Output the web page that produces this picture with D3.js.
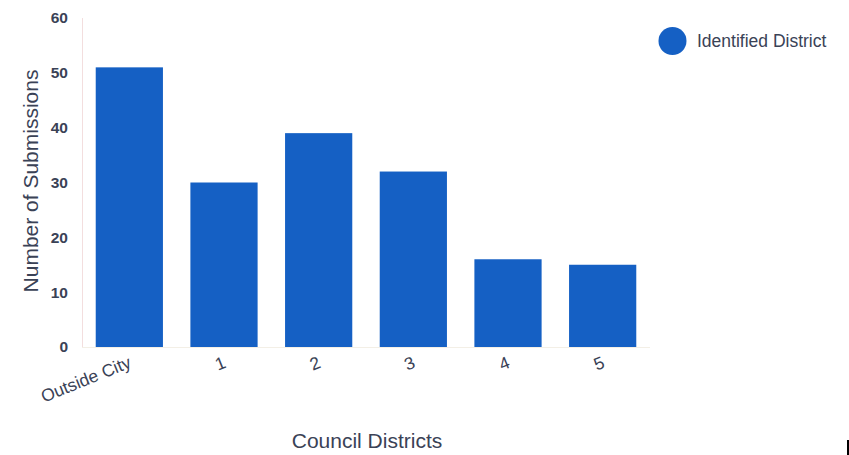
<!DOCTYPE html>
<html><head><meta charset="utf-8">
<script src="https://cdn.jsdelivr.net/npm/d3@7"></script>
<style>body{margin:0;background:#fff;} svg{display:block;font-family:"Liberation Sans",Arial,sans-serif;}</style>
</head><body>
<svg id="c" width="849" height="455"></svg>
<script>
const categories = ["Outside City","1","2","3","4","5"];
const values = [51,30,39,32,16,15];
const yTicks = [0,10,20,30,40,50,60];
const seriesName = "Identified District";
const xTitle = "Council Districts";
const yTitle = "Number of Submissions";

(function(){
const svg = d3.select("#c");
const mLeft = 82, mRight = 650, mTop = 18, mBottom = 347;
const x = d3.scaleBand().domain(categories).range([mLeft,mRight]).paddingInner(0.29).paddingOuter(0.145);
const y = d3.scaleLinear().domain([0,60]).range([mBottom,mTop]);
const color = "#1560c4";
const textCol = "#3a4256";

svg.append("line").attr("x1",mLeft+0.5).attr("x2",mLeft+0.5).attr("y1",mTop).attr("y2",mBottom).attr("stroke","#f3dede").attr("stroke-width",1);
svg.append("line").attr("x1",mLeft).attr("x2",mRight).attr("y1",mBottom+0.5).attr("y2",mBottom+0.5).attr("stroke","#f3efe6").attr("stroke-width",1);

svg.selectAll("rect.bar").data(values).join("rect").attr("class","bar")
  .attr("x",(d,i)=>x(categories[i])).attr("width",x.bandwidth())
  .attr("y",d=>y(d)).attr("height",d=>mBottom-y(d)).attr("fill",color);

const yAxis = d3.axisLeft(y).tickValues(yTicks).tickSize(0).tickPadding(14);
const ya = svg.append("g").attr("transform",`translate(${mLeft},0)`).call(yAxis);
ya.select(".domain").remove();
ya.selectAll("text").attr("fill",textCol).attr("font-size",15.5).attr("font-weight","bold").attr("font-family","Liberation Sans, Arial, sans-serif");

const xAxis = d3.axisBottom(x).tickSize(0).tickPadding(0);
const xa = svg.append("g").attr("transform",`translate(0,${mBottom})`).call(xAxis);
xa.select(".domain").remove();
xa.selectAll("text").attr("fill",textCol).attr("font-size",17.5).attr("font-family","Liberation Sans, Arial, sans-serif")
  .attr("text-anchor","end").attr("dy",0).attr("y",0)
  .attr("transform","translate(3,20) rotate(-22)");

svg.append("text").attr("x",367).attr("y",448).attr("text-anchor","middle").attr("fill",textCol).attr("font-size",21).text(xTitle);
svg.append("text").attr("transform",`translate(38,181) rotate(-90)`).attr("text-anchor","middle").attr("fill",textCol).attr("font-size",21).text(yTitle);

svg.append("circle").attr("cx",672.5).attr("cy",41).attr("r",14).attr("fill",color);
svg.append("text").attr("x",697).attr("y",47).attr("fill",textCol).attr("font-size",17.5).text(seriesName);

svg.append("rect").attr("x",847).attr("y",440).attr("width",2).attr("height",15).attr("fill","#000");
})();
</script>
</body></html>
